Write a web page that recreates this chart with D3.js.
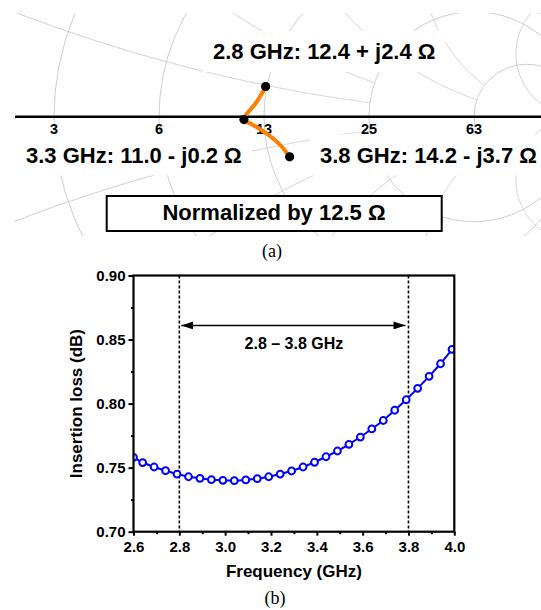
<!DOCTYPE html>
<html>
<head>
<meta charset="utf-8">
<script src="https://cdn.jsdelivr.net/npm/d3@7"></script>
<style>
  body { margin: 0; background: #fff; }
  svg { display: block; font-family: "Liberation Sans", Arial, sans-serif; }
</style>
</head>
<body>
<svg id="fig" width="541" height="610"></svg>
<script>
// ---- (a) smith chart data ----
const z0 = 12.5;
const rGrid = [0.2, 0.5, 1, 2, 5];
const rLabels = ["3", "6", "13", "25", "63"];
const xGrid = [0.2, 0.5, 1, 2, 5];
const xGridLimit = [2, 2, 5, 5, Infinity]; // reactance arcs stop at this resistance circle

// impedance trajectory in ohms
const trajFreq = [2.8, 2.9, 3.0, 3.1, 3.2, 3.3, 3.4, 3.5, 3.6, 3.7, 3.8];
const trajR = [12.4, 12.15, 11.8, 11.43, 11.11, 11.0, 11.64, 12.37, 13.07, 13.71, 14.2];
const trajX = [2.4, 1.68, 0.99, 0.49, 0.08, -0.2, -0.61, -1.13, -1.78, -2.62, -3.7];

const markFreq = [2.8, 3.3, 3.8];
const markR = [12.4, 11.0, 14.2];
const markX = [2.4, -0.2, -3.7];
const markLabels = ["2.8 GHz: 12.4 + j2.4 Ω", "3.3 GHz: 11.0 - j0.2 Ω", "3.8 GHz: 14.2 - j3.7 Ω"];

// ---- (b) insertion loss data ----
const freq = [2.6, 2.64, 2.69, 2.74, 2.79, 2.84, 2.89, 2.94, 2.99, 3.04, 3.09, 3.14, 3.19, 3.24, 3.29,
  3.34, 3.39, 3.44, 3.49, 3.54, 3.59, 3.64, 3.69, 3.74, 3.79, 3.84, 3.89, 3.94, 3.99];
const loss = [0.758, 0.754, 0.7505, 0.7476, 0.745, 0.7429, 0.7417, 0.7406, 0.7401, 0.7398, 0.7404,
  0.7414, 0.7429, 0.745, 0.7474, 0.7505, 0.7542, 0.7585, 0.763, 0.7682, 0.7739, 0.7802, 0.7868,
  0.7948, 0.803, 0.8119, 0.8213, 0.8311, 0.8424];
const xTicks = [2.6, 2.8, 3.0, 3.2, 3.4, 3.6, 3.8, 4.0];
const xMinor = [2.7, 2.9, 3.1, 3.3, 3.5, 3.7, 3.9];
const yTicks = [0.70, 0.75, 0.80, 0.85, 0.90];
const yMinor = [0.725, 0.775, 0.825, 0.875];
const band = [2.8, 3.8];
const bandLabel = "2.8 – 3.8 GHz";

const svg = d3.select("#fig");

//reflection coefficient of a normalized impedance
function gamma(zr, zx) {
  const d = (zr + 1) * (zr + 1) + zx * zx;
  return [(zr * zr + zx * zx - 1) / d, 2 * zx / d];
}

// ================= (a) =================
const gx = d3.scaleLinear().domain([-1, 1]).range([264 - 315, 264 + 315]);
const gy = d3.scaleLinear().domain([-1, 1]).range([116.7 + 315, 116.7 - 315]);

svg.append("defs").append("clipPath").attr("id", "smithClip")
  .append("rect").attr("x", 15).attr("y", 13).attr("width", 526).attr("height", 223);

const grid = svg.append("g").attr("clip-path", "url(#smithClip)")
  .attr("fill", "none").attr("stroke", "#c8c8c8").attr("stroke-width", 0.9);

// constant resistance circles
grid.selectAll("circle.r").data(rGrid).enter().append("circle")
  .attr("cx", d => gx(d / (d + 1)))
  .attr("cy", gy(0))
  .attr("r", d => gx(1 / (d + 1)) - gx(0));

// constant reactance arcs (both signs)
const arcLine = d3.line().x(p => gx(p[0])).y(p => gy(p[1]));
const uSteps = d3.range(0, 1.0001, 0.002);
xGrid.forEach(function (xv, i) {
  const lim = xGridLimit[i];
  [xv, -xv].forEach(function (xs) {
    const pts = uSteps.map(function (u) {
      const s = lim === Infinity ? u / (1 - u + 1e-6) : u * lim;
      return gamma(s, xs);
    });
    grid.append("path").attr("d", arcLine(pts));
  });
});

// marker labels with white backing
const labelPos = [[213, 59], [26, 162.5], [320, 162.5]];
const labG = svg.append("g");
markLabels.forEach(function (t, i) {
  const g = labG.append("g");
  const bg = g.append("rect").attr("fill", "#fff");
  const tx = g.append("text").attr("x", labelPos[i][0]).attr("y", labelPos[i][1])
    .attr("font-size", 22).attr("font-weight", "bold").text(t);
  const bb = tx.node().getBBox();
  bg.attr("x", bb.x - 10).attr("y", bb.y - 8).attr("width", bb.width + 20).attr("height", bb.height + 16);
});

// real axis
svg.append("line").attr("x1", 15).attr("x2", 541).attr("y1", gy(0)).attr("y2", gy(0))
  .attr("stroke", "#000").attr("stroke-width", 2.5);

svg.append("g").selectAll("text").data(rGrid).enter().append("text")
  .attr("x", d => gx((d - 1) / (d + 1)))
  .attr("y", 133.5)
  .attr("text-anchor", "middle").attr("font-size", 14.5).attr("font-weight", "bold")
  .text((d, i) => rLabels[i]);

// trajectory
const trajPts = trajFreq.map((f, i) => gamma(trajR[i] / z0, trajX[i] / z0));
svg.append("path")
  .attr("d", d3.line().x(p => gx(p[0])).y(p => gy(p[1])).curve(d3.curveCatmullRom)(trajPts))
  .attr("fill", "none").attr("stroke", "#ff8000").attr("stroke-width", 4)
  .attr("stroke-linecap", "round");

svg.append("g").selectAll("circle").data(markFreq).enter().append("circle")
  .attr("cx", (d, i) => gx(gamma(markR[i] / z0, markX[i] / z0)[0]))
  .attr("cy", (d, i) => gy(gamma(markR[i] / z0, markX[i] / z0)[1]))
  .attr("r", 4.6).attr("fill", "#000");

// normalization box
svg.append("rect").attr("x", 106.7).attr("y", 196).attr("width", 335).attr("height", 35)
  .attr("fill", "#fff").attr("stroke", "#000").attr("stroke-width", 2);
svg.append("text").attr("x", 274).attr("y", 220).attr("text-anchor", "middle")
  .attr("font-size", 22).attr("font-weight", "bold").text("Normalized by 12.5 Ω");

svg.append("text").attr("x", 272).attr("y", 257).attr("text-anchor", "middle")
  .attr("font-family", "Liberation Serif, Times New Roman, serif").attr("font-size", 18).text("(a)");

// ================= (b) =================
const x = d3.scaleLinear().domain([2.6, 4.0]).range([133.5, 454.3]);
const y = d3.scaleLinear().domain([0.70, 0.90]).range([531.7, 275.5]);

svg.append("clipPath").attr("id", "plotClip")
  .append("rect").attr("x", x(2.6)).attr("y", y(0.90)).attr("width", x(4.0) - x(2.6)).attr("height", y(0.70) - y(0.90));

// band limits
svg.append("g").selectAll("line").data(band).enter().append("line")
  .attr("x1", d => x(d)).attr("x2", d => x(d))
  .attr("y1", y(0.90)).attr("y2", y(0.70))
  .attr("stroke", "#000").attr("stroke-width", 1.6).attr("stroke-dasharray", "3,2");

// double arrow
const defs = svg.select("defs");
defs.append("marker").attr("id", "ah").attr("viewBox", "0 0 12 8")
  .attr("refX", 12).attr("refY", 4).attr("markerWidth", 12).attr("markerHeight", 8)
  .attr("markerUnits", "userSpaceOnUse").attr("orient", "auto-start-reverse")
  .append("path").attr("d", "M0,0L12,4L0,8Z").attr("fill", "#000");
svg.append("line")
  .attr("x1", x(band[0]) + 2).attr("x2", x(band[1]) - 3)
  .attr("y1", y(0.861)).attr("y2", y(0.861))
  .attr("stroke", "#000").attr("stroke-width", 1.6)
  .attr("marker-start", "url(#ah)").attr("marker-end", "url(#ah)");
svg.append("text").attr("x", (x(band[0]) + x(band[1])) / 2).attr("y", y(0.861) + 24)
  .attr("text-anchor", "middle").attr("font-size", 16).attr("font-weight", "bold").text(bandLabel);

// series
const series = svg.append("g").attr("clip-path", "url(#plotClip)");
series.append("path")
  .attr("d", d3.line().x((d, i) => x(freq[i])).y(d => y(d))(loss))
  .attr("fill", "none").attr("stroke", "#0000ff").attr("stroke-width", 2);
series.selectAll("circle").data(loss).enter().append("circle")
  .attr("cx", (d, i) => x(freq[i])).attr("cy", d => y(d)).attr("r", 3.4)
  .attr("fill", "#fff").attr("stroke", "#0000ff").attr("stroke-width", 2);

// axes
const xAxis = svg.append("g").attr("transform", "translate(0," + y(0.70) + ")")
  .call(d3.axisBottom(x).tickValues(xTicks).tickFormat(d3.format(".1f")).tickSize(4).tickPadding(6));
const xAxisMinor = svg.append("g").attr("transform", "translate(0," + y(0.70) + ")")
  .call(d3.axisBottom(x).tickValues(xMinor).tickFormat("").tickSize(2.5));
const yAxis = svg.append("g").attr("transform", "translate(" + x(2.6) + ",0)")
  .call(d3.axisLeft(y).tickValues(yTicks).tickFormat(d3.format(".2f")).tickSize(5).tickPadding(3));
const yAxisMinor = svg.append("g").attr("transform", "translate(" + x(2.6) + ",0)")
  .call(d3.axisLeft(y).tickValues(yMinor).tickFormat("").tickSize(2.5));
[xAxis, xAxisMinor, yAxis, yAxisMinor].forEach(function (a) {
  a.select(".domain").remove();
  a.selectAll("line").attr("stroke", "#000").attr("stroke-width", 2);
  a.selectAll("text").attr("fill", "#000").attr("font-size", 15).attr("font-weight", "bold")
    .attr("font-family", "Liberation Sans, Arial, sans-serif");
});

// frame
svg.append("rect").attr("x", x(2.6)).attr("y", y(0.90))
  .attr("width", x(4.0) - x(2.6)).attr("height", y(0.70) - y(0.90))
  .attr("fill", "none").attr("stroke", "#000").attr("stroke-width", 2.2);

svg.append("text").attr("x", (x(2.6) + x(4.0)) / 2).attr("y", 577)
  .attr("text-anchor", "middle").attr("font-size", 17).attr("font-weight", "bold").text("Frequency (GHz)");
svg.append("text").attr("transform", "translate(81.5," + (y(0.80)) + ") rotate(-90)")
  .attr("text-anchor", "middle").attr("font-size", 17).attr("font-weight", "bold").text("Insertion loss (dB)");

svg.append("text").attr("x", 275).attr("y", 604).attr("text-anchor", "middle")
  .attr("font-family", "Liberation Serif, Times New Roman, serif").attr("font-size", 18).text("(b)");
</script>
</body>
</html>
